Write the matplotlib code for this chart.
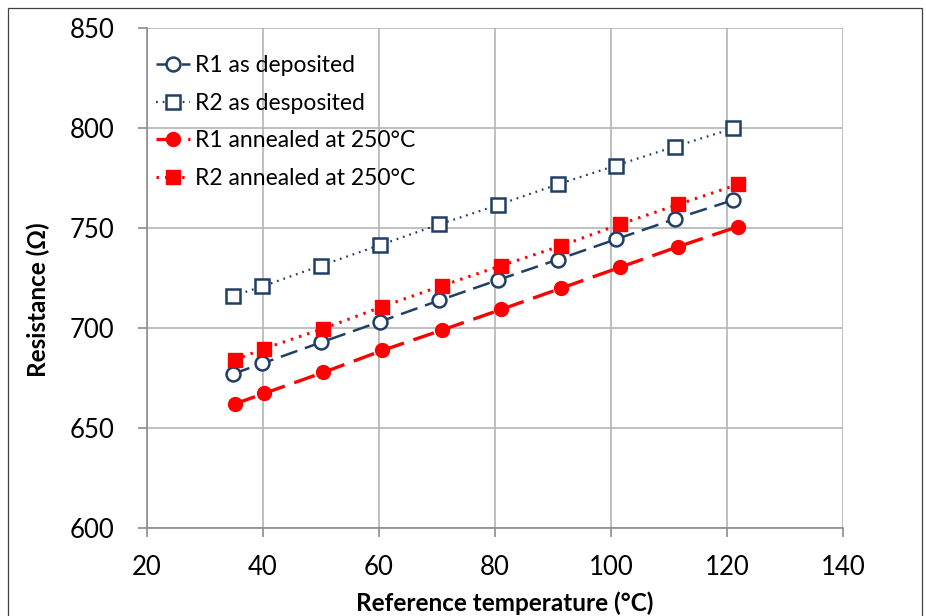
import matplotlib
matplotlib.use("Agg")
import matplotlib.pyplot as plt
from matplotlib.patches import Rectangle

# measured temperatures (°C)
t_dep = [34.8, 39.9, 50.0, 60.2, 70.4, 80.5, 90.8, 100.8, 111.0, 121.1]
t_ann = [35.1, 40.2, 50.4, 60.6, 70.9, 81.1, 91.3, 101.5, 111.6, 121.9]

# resistance (Ohm)
r1_dep = [677.0, 682.3, 692.8, 703.2, 713.8, 724.0, 734.2, 744.3, 754.5, 764.0]
r2_dep = [716.0, 720.8, 731.2, 741.5, 751.8, 761.5, 771.8, 781.2, 790.7, 799.8]
r1_ann = [662.0, 667.3, 677.8, 688.8, 699.0, 709.3, 719.8, 730.3, 740.7, 750.7]
r2_ann = [684.0, 689.7, 699.7, 710.7, 721.2, 731.2, 741.0, 751.8, 761.8, 771.8]

labels = ["R1 as deposited", "R2 as desposited",
          "R1 annealed at 250°C", "R2 annealed at 250°C"]

x_ticks = [20, 40, 60, 80, 100, 120, 140]
y_ticks = [600, 650, 700, 750, 800, 850]

navy = "#1F3F66"
red = "#FF0000"
grid_c = "#B4B4B4"

plt.rcParams['font.family'] = ['Lato', 'DejaVu Sans']

W, H = 926, 616
fig = plt.figure(figsize=(W / 100, H / 100), dpi=100)
ax = fig.add_axes([147 / W, 1 - 528 / H, (843 - 147) / W, (528 - 28) / H])

# outer chart frame
fig.patches.append(Rectangle((8 / W, -0.05), (922 - 8) / W, 1.05 - 8 / H,
                             transform=fig.transFigure, fill=False,
                             edgecolor="#404040", linewidth=0.9))

ax.plot(t_dep, r1_dep, color=navy, lw=1.8, dashes=(7, 3.2), marker='o',
        ms=10, mfc='white', mec=navy, mew=1.8, label=labels[0])
ax.plot(t_dep, r2_dep, color=navy, lw=1.6, dashes=(0.8, 2.2), marker='s',
        ms=10, mfc='white', mec=navy, mew=1.8, label=labels[1])
ax.plot(t_ann, r1_ann, color=red, lw=2.4, dashes=(6.5, 3), marker='o',
        ms=10, mfc=red, mec=red, label=labels[2])
ax.plot(t_ann, r2_ann, color=red, lw=2.2, dashes=(0.8, 2.0), marker='s',
        ms=9.5, mfc=red, mec=red, label=labels[3])

ax.set_xlim(20, 140)
ax.set_ylim(600, 850)
ax.set_xticks(x_ticks)
ax.set_yticks(y_ticks)
ax.grid(True, color=grid_c, lw=1.2)
ax.set_axisbelow(True)
for s in ['top', 'right']:
    ax.spines[s].set_visible(False)
for s in ['left', 'bottom']:
    ax.spines[s].set_color("#8C8C8C")
    ax.spines[s].set_linewidth(1.2)
ax.tick_params(axis='both', direction='out', length=6.5, color="#8C8C8C",
               labelsize=18.5, width=1.2)
ax.tick_params(axis='x', pad=13)
ax.tick_params(axis='y', pad=17)

ax.set_xlabel("Reference temperature (°C)", fontsize=17.5, fontweight='bold')
ax.xaxis.set_label_coords((505 - 147) / (843 - 147), -(591 - 528) / 500)
ax.set_ylabel("Resistance (Ω)", fontsize=17.5, fontweight='bold')
ax.yaxis.set_label_coords(-(147 - 50) / (843 - 147), 1 - (300 - 28) / 500)

ax.legend(loc='upper left', bbox_to_anchor=(9 / 696, 0.946), frameon=False,
          fontsize=16.5, handlelength=1.5, handletextpad=0.2,
          labelspacing=0.73, borderaxespad=0, borderpad=0)

fig.savefig("out.png", dpi=100)
